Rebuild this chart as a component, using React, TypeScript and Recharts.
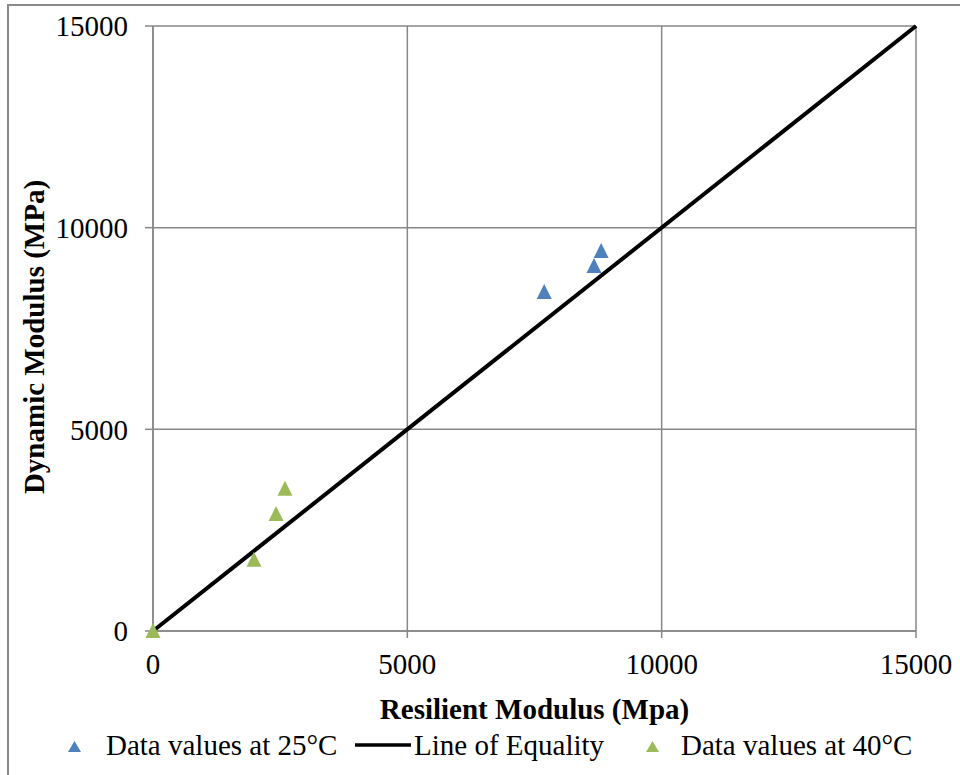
import React from 'react';
import { ScatterChart, Scatter, XAxis, YAxis, CartesianGrid, Legend, Label } from 'recharts';

const ticks = [0, 5000, 10000, 15000];

const data25X = [7690, 8670, 8810];
const data25Y = [8405, 9050, 9420];

const data40X = [0, 1985, 2420, 2595];
const data40Y = [0, 1765, 2900, 3525];

const equalityX = [0, 15000];
const equalityY = [0, 15000];

const seriesNames = ['Data values at 25°C', 'Line of Equality', 'Data values at 40°C'];

const BLUE = '#4F81BD';
const GREEN = '#9BBB59';
const GRID = '#878787';
const FONT = '"Liberation Serif", "Times New Roman", serif';
const FS = 29;

const toPoints = (xs: number[], ys: number[]) => xs.map((x, i) => ({ x, y: ys[i] }));

const data25 = toPoints(data25X, data25Y);
const data40 = toPoints(data40X, data40Y);
const equality = toPoints(equalityX, equalityY);

const makeTriangle = (color: string) => (props: any) => {
  const { cx, cy } = props;
  if (cx == null || cy == null) return <g />;
  return (
    <polygon
      points={`${cx},${cy - 8} ${cx + 7.5},${cy + 7} ${cx - 7.5},${cy + 7}`}
      fill={color}
    />
  );
};

const NoMarker = () => <g />;

const LegendContent = () => {
  const textStyle: React.CSSProperties = {
    position: 'absolute',
    top: 0,
    fontFamily: FONT,
    fontSize: FS,
    lineHeight: '32px',
    color: '#000',
    whiteSpace: 'nowrap',
  };
  return (
    <div style={{ position: 'relative', width: 960, height: 32 }}>
      <svg style={{ position: 'absolute', left: 0, top: 0 }} width={960} height={32}>
        <polygon points="74.5,12 81,23 68,23" fill={BLUE} />
        <line x1={355} y1={16} x2={411} y2={16} stroke="#000" strokeWidth={3.5} />
        <polygon points="652.5,12 659,23 646,23" fill={GREEN} />
      </svg>
      <span style={{ ...textStyle, left: 106 }}>{seriesNames[0]}</span>
      <span style={{ ...textStyle, left: 414 }}>{seriesNames[1]}</span>
      <span style={{ ...textStyle, left: 681 }}>{seriesNames[2]}</span>
    </div>
  );
};

export default function App() {
  return (
    <div style={{ position: 'absolute', left: 0, top: 0, width: 960, height: 775, overflow: 'hidden', background: '#fff' }}>
      <div
        style={{
          position: 'absolute',
          left: 7,
          top: 4,
          width: 970,
          height: 790,
          border: '2px solid #8a8a8a',
          boxSizing: 'border-box',
        }}
      />
      <div style={{ position: 'absolute', left: 0, top: 0 }}>
        <ScatterChart
          width={960}
          height={775}
          margin={{ top: 26, right: 44, bottom: 52, left: 93 }}
        >
          <CartesianGrid stroke={GRID} strokeWidth={1.5} />
          <XAxis
            type="number"
            dataKey="x"
            domain={[0, 15000]}
            ticks={ticks}
            interval={0}
            height={60}
            axisLine={{ stroke: GRID, strokeWidth: 1.5 }}
            tickLine={{ stroke: GRID, strokeWidth: 1.5 }}
            tickSize={7}
            tickMargin={15}
            tick={{ fill: '#000', fontSize: FS, fontFamily: FONT }}
          >
            <Label
              content={(props: any) => {
                const vb = props.viewBox || {};
                return (
                  <text
                    x={vb.x + vb.width / 2}
                    y={719}
                    textAnchor="middle"
                    fontFamily={FONT}
                    fontSize={FS}
                    fontWeight="bold"
                    fill="#000"
                  >
                    Resilient Modulus (Mpa)
                  </text>
                );
              }}
            />
          </XAxis>
          <YAxis
            type="number"
            dataKey="y"
            domain={[0, 15000]}
            ticks={ticks}
            interval={0}
            width={60}
            axisLine={{ stroke: GRID, strokeWidth: 1.5 }}
            tickLine={{ stroke: GRID, strokeWidth: 1.5 }}
            tickSize={8}
            tickMargin={17}
            tick={{ fill: '#000', fontSize: FS, fontFamily: FONT }}
          >
            <Label
              content={() => (
                <text
                  x={44}
                  y={337}
                  transform="rotate(-90 44 337)"
                  textAnchor="middle"
                  fontFamily={FONT}
                  fontSize={FS}
                  fontWeight="bold"
                  fill="#000"
                >
                  Dynamic Modulus (MPa)
                </text>
              )}
            />
          </YAxis>
          <Scatter
            name={seriesNames[1]}
            data={equality}
            line={{ stroke: '#000', strokeWidth: 4 }}
            shape={NoMarker}
            isAnimationActive={false}
          />
          <Scatter
            name={seriesNames[0]}
            data={data25}
            shape={makeTriangle(BLUE)}
            isAnimationActive={false}
          />
          <Scatter
            name={seriesNames[2]}
            data={data40}
            shape={makeTriangle(GREEN)}
            isAnimationActive={false}
          />
          <Legend
            content={<LegendContent />}
            wrapperStyle={{ position: 'absolute', left: 0, top: 729, width: 960, height: 32 }}
          />
        </ScatterChart>
      </div>
    </div>
  );
}
